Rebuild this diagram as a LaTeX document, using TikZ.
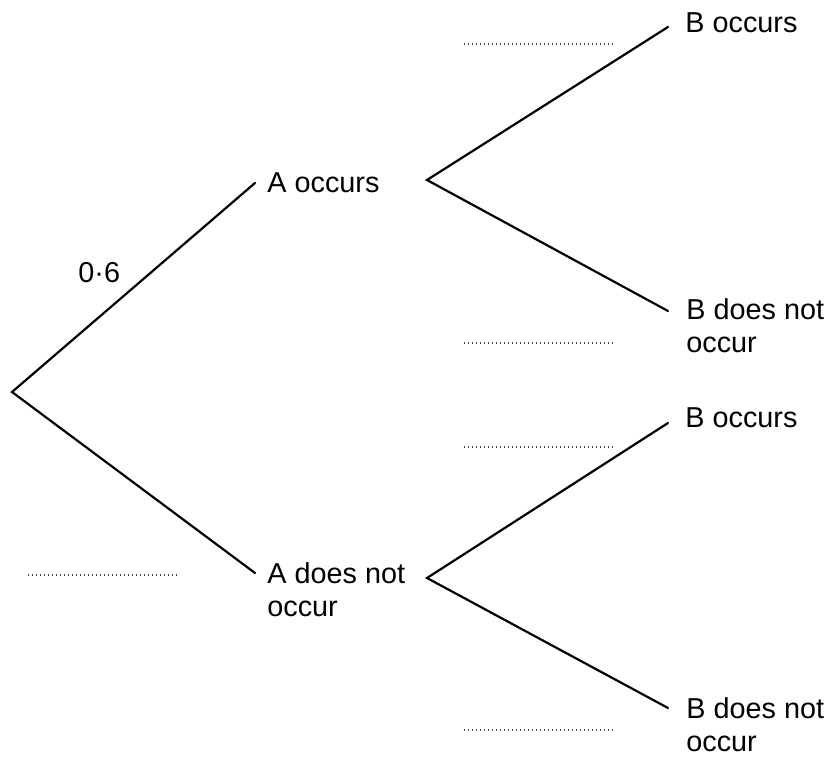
\documentclass[tikz,border=0pt]{standalone}
\usepackage{fontspec}
\setmainfont{Liberation Sans}
\tikzset{
  branch/.style={line width=1.1pt, line cap=round},
  lbl/.style={anchor=base west, inner sep=0pt, align=left, font=\fontsize{14.4}{16.5}\selectfont},
  blank/.style={line width=0.75pt, dash pattern=on 0.5pt off 1.5pt, black!75}
}
\begin{document}
\begin{tikzpicture}[x=0.5pt,y=-0.5pt]
\useasboundingbox (0,0) rectangle (829,758);

\coordinate (root) at (12,392);
\coordinate (aocc) at (255,183);
\coordinate (anot) at (255,573);
\coordinate (va) at (427,180);
\coordinate (vn) at (427,578);
\coordinate (aboc) at (668,27);
\coordinate (abno) at (668,311);
\coordinate (nboc) at (668,423);
\coordinate (nbno) at (668,708);

\draw[branch] (aocc) -- (root) -- (anot);
\draw[branch] (aboc) -- (va) -- (abno);
\draw[branch] (nboc) -- (vn) -- (nbno);

\node[lbl] (aocclbl) at (267,193) {A occurs};
\node[lbl] (anotlbl) at (267,616) {A does not\\occur};
\node[lbl] (aboclbl) at (685,33) {B occurs};
\node[lbl] (abnolbl) at (686,353) {B does not\\occur};
\node[lbl] (nboclbl) at (685,428) {B occurs};
\node[lbl] (nbnolbl) at (686,751) {B does not\\occur};
\node[lbl] (prob) at (78,283) {0·6};

\draw[blank] (464,44) -- (613,44);
\draw[blank] (464,343) -- (613,343);
\draw[blank] (464,447) -- (613,447);
\draw[blank] (464,730) -- (613,730);
\draw[blank] (28,575) -- (178,575);

\end{tikzpicture}
\end{document}
